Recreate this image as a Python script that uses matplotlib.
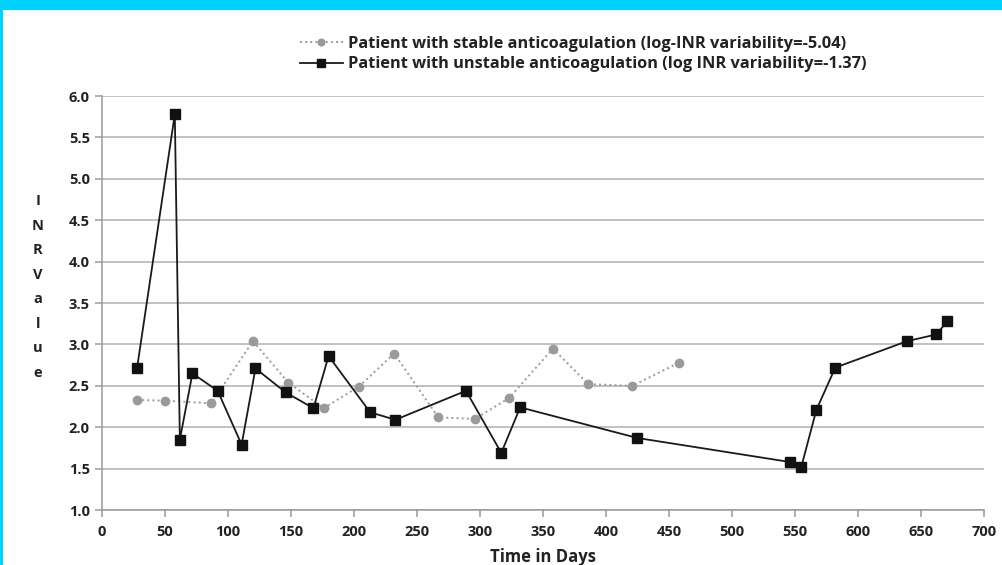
import matplotlib.pyplot as plt
from matplotlib.patches import Rectangle

# stable patient (grey circles, dotted)
stable_days = [28, 50, 87, 120, 148, 176, 204, 232, 267, 296, 323, 358, 386, 421, 458]
stable_inr = [2.33, 2.32, 2.29, 3.04, 2.54, 2.23, 2.49, 2.89, 2.12, 2.10, 2.35, 2.95, 2.52, 2.50, 2.78]

# unstable patient (black squares, solid)
unstable_days = [28, 58, 62, 72, 92, 111, 122, 146, 168, 180, 213, 233, 289, 317, 332,
                 425, 546, 555, 567, 582, 639, 662, 671]
unstable_inr = [2.71, 5.78, 1.85, 2.65, 2.44, 1.79, 2.71, 2.42, 2.23, 2.86, 2.18, 2.09, 2.44, 1.69, 2.24,
                1.87, 1.58, 1.52, 2.21, 2.72, 3.04, 3.12, 3.28]

stable_label = "Patient with stable anticoagulation (log-INR variability=-5.04)"
unstable_label = "Patient with unstable anticoagulation (log INR variability=-1.37)"

plt.rcParams['font.family'] = ['Open Sans', 'DejaVu Sans']
plt.rcParams['font.weight'] = 'bold'

fig = plt.figure(figsize=(10.03, 5.65), dpi=100, facecolor='#00d2ff')
# white page inside the cyan frame
fig.patches.append(Rectangle((3 / 1003, 0), 1, 1 - 10 / 565, transform=fig.transFigure,
                             facecolor='white', edgecolor='none', zorder=-10))

ax = fig.add_axes([0.1014, 0.0973, 0.8797, 0.7327])
ax.set_facecolor('white')

ax.plot(stable_days, stable_inr, linestyle=':', color='#9a9a9a', linewidth=1.4,
        marker='o', markersize=6, markerfacecolor='#9a9a9a', markeredgecolor='#9a9a9a',
        label=stable_label, zorder=3)
ax.plot(unstable_days, unstable_inr, linestyle='-', color='#1a1a1a', linewidth=1.3,
        marker='s', markersize=6.5, markerfacecolor='#111111', markeredgecolor='#111111',
        label=unstable_label, zorder=4)

ax.set_xlim(0, 700)
ax.set_ylim(1.0, 6.0)
ax.set_xticks(range(0, 701, 50))
ax.set_yticks([1.0 + 0.5 * i for i in range(11)])
ax.set_yticklabels(['%.1f' % (1.0 + 0.5 * i) for i in range(11)])

ax.grid(axis='y', color='#b0b0b0', linewidth=1.1)
ax.set_axisbelow(True)
for side in ['top', 'right']:
    ax.spines[side].set_visible(False)
for side in ['left', 'bottom']:
    ax.spines[side].set_color('#9a9a9a')
    ax.spines[side].set_linewidth(1.1)
ax.tick_params(axis='both', colors='#9a9a9a', labelcolor='#222222', labelsize=10.5,
               length=5, width=1.1)
ax.tick_params(axis='x', pad=6)
for lab in ax.get_xticklabels() + ax.get_yticklabels():
    lab.set_fontweight('bold')

ax.set_xlabel('Time in Days', fontsize=12, fontweight='bold', color='#222222', labelpad=6)
fig.text(38 / 1003, 1 - 287 / 565, '\n'.join('INRValue'), ha='center', va='center',
         fontsize=10.5, fontweight='bold', color='#222222', linespacing=1.95)

leg = fig.legend(loc='upper left', bbox_to_anchor=(292 / 1003, 1 - 28 / 565), frameon=False,
                 fontsize=11.8, handlelength=2.6, handletextpad=0.3, labelspacing=0.25,
                 borderpad=0, markerscale=0.8)
for t in leg.get_texts():
    t.set_fontweight('bold')
    t.set_color('#222222')

fig.savefig('out.png', dpi=100, facecolor=fig.get_facecolor())
